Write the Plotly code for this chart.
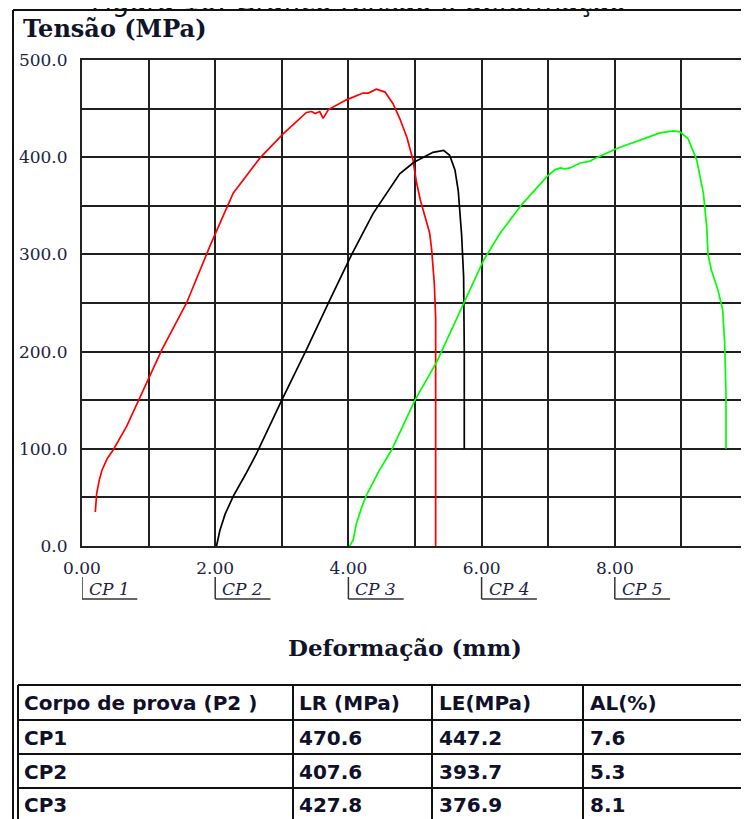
import plotly.graph_objects as go

# ---------------- data ----------------
cp1_x = [0.20, 0.21, 0.22, 0.26, 0.30, 0.38, 0.47, 0.67, 0.97, 1.20, 1.57, 1.93, 2.27, 2.67, 3.02, 3.37,
         3.45, 3.50, 3.57, 3.62, 3.70, 3.97, 4.22, 4.30, 4.42, 4.55, 4.67, 4.77, 4.88, 4.97, 5.02, 5.08,
         5.15, 5.22, 5.25, 5.29, 5.31, 5.31, 5.31]
cp1_y = [35, 45, 54, 68, 78, 90, 99, 123, 167, 202, 250, 310, 363, 399, 424, 446,
         447, 445, 447, 440, 449, 459, 466, 466, 470, 467, 455, 440, 420, 397, 375, 356,
         339, 322, 305, 270, 235, 200, 0]

cp2_x = [2.02, 2.04, 2.07, 2.15, 2.27, 2.45, 2.62, 3.00, 3.37, 3.72, 3.87, 4.05, 4.37, 4.45, 4.77, 4.97,
         5.02, 5.27, 5.38, 5.43, 5.52, 5.60, 5.65, 5.70, 5.73, 5.74, 5.74]
cp2_y = [0, 8, 16, 33, 51, 73, 95, 150, 202, 253, 274, 300, 342, 350, 383, 394,
         396, 405, 406, 407, 402, 387, 365, 320, 277, 200, 100]

cp3_x = [4.02, 4.07, 4.12, 4.20, 4.27, 4.45, 4.65, 5.00, 5.33, 5.73, 6.03, 6.28, 6.60, 6.98, 7.10, 7.18,
         7.25, 7.33, 7.48, 7.63, 7.68, 8.03, 8.38, 8.68, 8.88, 8.98, 9.10, 9.23, 9.33, 9.38, 9.40, 9.45,
         9.55, 9.62, 9.65, 9.67, 9.67]
cp3_y = [0, 6, 23, 40, 52, 76, 99, 150, 190, 250, 294, 322, 351, 380, 387, 389,
         388, 389, 394, 396, 398, 409, 418, 425, 427, 426, 419, 397, 363, 328, 300, 284,
         263, 243, 208, 157, 100]

series_colors = ["#ff0000", "#000000", "#00ff00"]

cp_labels = ["CP 1", "CP 2", "CP 3", "CP 4", "CP 5"]
cp_starts = [0, 2, 4, 6, 8]

table_header = ["Corpo de prova (P2 )", "LR (MPa)", "LE(MPa)", "AL(%)"]
table_cp = ["CP1", "CP2", "CP3"]
table_lr = ["470.6", "407.6", "427.8"]
table_le = ["447.2", "393.7", "376.9"]
table_al = ["7.6", "5.3", "8.1"]

# ---------------- layout helpers ----------------
# the page body adds an 8px margin, so the figure is drawn 8px smaller and
# every screen position is converted into figure coordinates
OFF = 8
W, H = 749 - OFF, 819 - OFF


def xp(px):
    return (px - OFF) / W


def yp(py):
    return 1 - (py - OFF) / H


fig = go.Figure()
for xs, ys, col, name in zip([cp1_x, cp2_x, cp3_x], [cp1_y, cp2_y, cp3_y], series_colors, table_cp):
    fig.add_trace(go.Scatter(x=xs, y=ys, mode="lines", name=name,
                             line=dict(color=col, width=1.7), hoverinfo="skip"))

tick_font = dict(family="DejaVu Serif", size=17, color="#1c2340")
grid_col = "#202020"

fig.update_layout(
    width=W, height=H,
    margin=dict(l=0, r=0, t=0, b=0, autoexpand=False),
    paper_bgcolor="white", plot_bgcolor="white",
    showlegend=False,
    xaxis=dict(domain=[xp(82), xp(748)], range=[0, 10], dtick=2, tick0=0, tickformat=".2f",
               automargin=False,
               showgrid=True, gridcolor=grid_col, gridwidth=1.8,
               minor=dict(dtick=1, showgrid=True, gridcolor=grid_col, gridwidth=1.8),
               showline=True, mirror=True, linecolor="#222", linewidth=2,
               ticks="", ticklabelstandoff=6, tickfont=tick_font, zeroline=False),
    yaxis=dict(domain=[yp(546), yp(60)], range=[0, 500], dtick=100, tick0=0, tickformat=".1f",
               automargin=False,
               showgrid=True, gridcolor=grid_col, gridwidth=1.8,
               minor=dict(dtick=50, showgrid=True, gridcolor=grid_col, gridwidth=1.8),
               showline=True, mirror=True, linecolor="#222", linewidth=2,
               ticks="", ticklabelstandoff=9, tickfont=tick_font, zeroline=False),
)

shapes = []
annotations = []

# outer frame
shapes.append(dict(type="line", xref="paper", yref="paper", x0=xp(13), x1=xp(13), y0=yp(10), y1=yp(830),
                   line=dict(color="#111", width=2)))
shapes.append(dict(type="line", xref="paper", yref="paper", x0=xp(13), x1=xp(760), y0=yp(10), y1=yp(10),
                   line=dict(color="#111", width=2)))

# cropped caption at the very top (mostly above the page)
annotations.append(dict(text="Figura 10: Gráfico tensão x deformação", xref="paper", yref="paper",
                        x=xp(358), y=1, xanchor="center", yanchor="bottom", showarrow=False,
                        font=dict(family="DejaVu Sans", size=27, color="#111"), yshift=-11))

# axis titles
annotations.append(dict(text="<b>Tensão (MPa)</b>", xref="paper", yref="paper", x=xp(21), y=yp(29),
                        xanchor="left", yanchor="middle", showarrow=False,
                        font=dict(family="DejaVu Serif", size=24, color="#101428")))
annotations.append(dict(text="<b>Deformação (mm)</b>", xref="paper", yref="paper", x=xp(405), y=yp(647),
                        xanchor="center", yanchor="middle", showarrow=False,
                        font=dict(family="DejaVu Serif", size=23, color="#101428")))

# CP markers below the x axis
for lab, pos in zip(cp_labels, cp_starts):
    shapes.append(dict(type="line", xref="x", yref="paper", x0=pos, x1=pos, y0=yp(577), y1=yp(599),
                       line=dict(color="#333", width=1.5)))
    shapes.append(dict(type="line", xref="x", yref="paper", x0=pos, x1=pos + 0.83, y0=yp(599), y1=yp(599),
                       line=dict(color="#333", width=1.5)))
    annotations.append(dict(text="<i>" + lab + "</i>", xref="x", yref="paper", x=pos, xshift=5,
                            y=yp(589), xanchor="left", yanchor="middle", showarrow=False,
                            font=dict(family="DejaVu Serif", size=17, color="#1c2340")))

# table
row_lines = [685, 720, 754, 788]
col_lines = [18, 293, 432, 583]
for yl in row_lines:
    shapes.append(dict(type="line", xref="paper", yref="paper", x0=xp(18), x1=xp(760), y0=yp(yl), y1=yp(yl),
                       line=dict(color="#111", width=2)))
for xl in col_lines:
    shapes.append(dict(type="line", xref="paper", yref="paper", x0=xp(xl), x1=xp(xl), y0=yp(685), y1=yp(830),
                       line=dict(color="#111", width=2)))

tfont = dict(family="DejaVu Sans", size=20, color="#10102a")
text_x = [22, 297, 437, 588]
row_centers = [703, 738, 772, 805]
rows = [table_header] + [list(r) for r in zip(table_cp, table_lr, table_le, table_al)]
for rc, row in zip(row_centers, rows):
    for tx, cell in zip(text_x, row):
        annotations.append(dict(text="<b>" + cell + "</b>", xref="paper", yref="paper", x=xp(tx), y=yp(rc),
                                xanchor="left", yanchor="middle", showarrow=False, font=tfont))

fig.update_layout(shapes=shapes, annotations=annotations)
fig.write_html("out.html")
